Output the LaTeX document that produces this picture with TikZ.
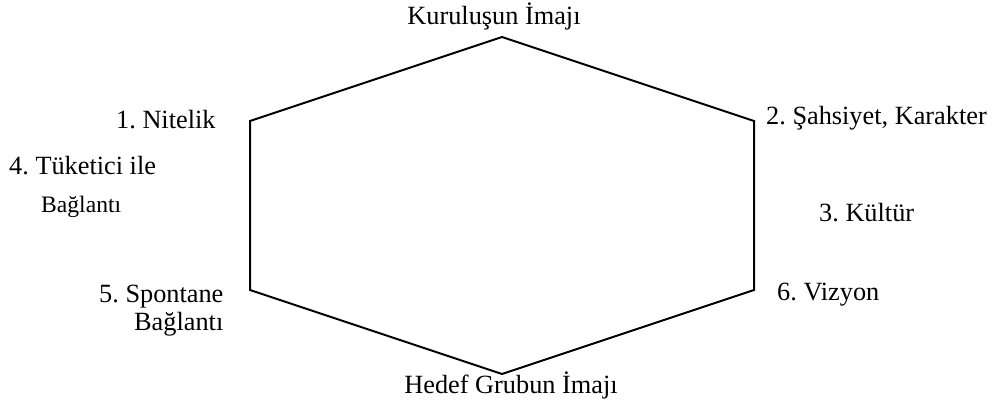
\documentclass[tikz,border=0pt]{standalone}
\usepackage{fontspec}
\setmainfont{Liberation Serif}
\frenchspacing
\begin{document}
\begin{tikzpicture}[x=1pt,y=-1pt,
  lbl/.style={inner sep=0pt,font=\fontsize{26.3}{30}\selectfont},
  lblsmall/.style={inner sep=0pt,font=\fontsize{23.6}{27}\selectfont},
  hexline/.style={line width=2pt,line join=miter}]
\useasboundingbox (0,0) rectangle (994,409);
% hexagon corners
\coordinate (top) at (502,37);
\coordinate (ul) at (250,121);
\coordinate (ll) at (250,290);
\coordinate (bot) at (502,374);
\coordinate (lr) at (754,290);
\coordinate (ur) at (754,121);
\draw[hexline] (top) -- (ur) -- (lr) -- (bot) -- (ll) -- (ul) -- cycle;
% labels
\node[lbl,anchor=base] (kurulus) at (494,25) {Kuruluşun İmajı};
\node[lbl,anchor=base] (hedef) at (511,393) {Hedef Grubun İmajı};
\node[lbl,anchor=base west] (nitelik) at (116,129) {1. Nitelik};
\node[lbl,anchor=base west] (sahsiyet) at (766,125) {2. Şahsiyet, Karakter};
\node[lbl,anchor=base west] (tuketici) at (9,175) {4. Tüketici ile};
\node[lblsmall,anchor=base west] (baglanti) at (41,213) {Bağlantı};
\node[lbl,anchor=base west] (kultur) at (819,222) {3. Kültür};
\node[lbl,anchor=base west] (spontane) at (99,302) {5. Spontane};
\node[lbl,anchor=base west] (baglanti2) at (134,330) {Bağlantı};
\node[lbl,anchor=base west] (vizyon) at (777,300) {6. Vizyon};
\end{tikzpicture}
\end{document}
